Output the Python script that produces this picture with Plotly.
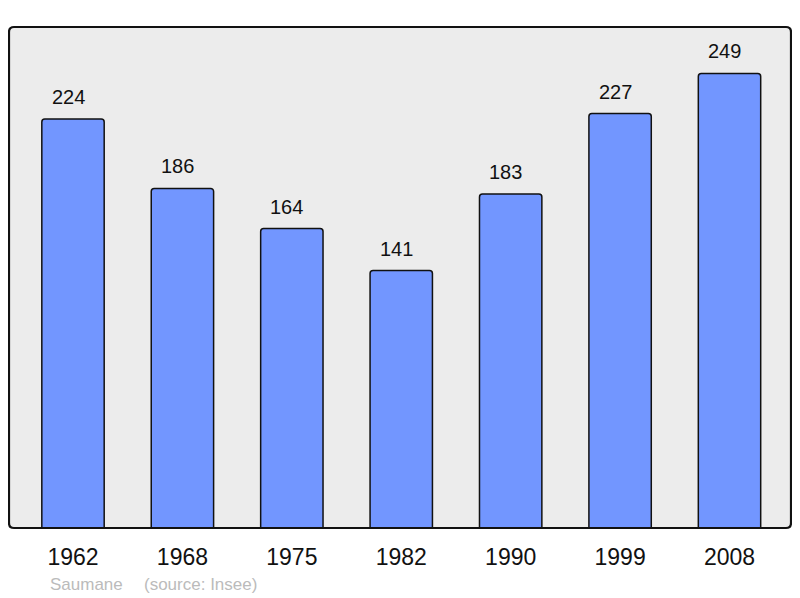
import plotly.graph_objects as go

years = ["1962", "1968", "1975", "1982", "1990", "1999", "2008"]
population = [224, 186, 164, 141, 183, 227, 249]
commune = "Saumane"
source = "(source: Insee)"

# page body has an 8px margin; size figure so the picture lands where the reference is
OFF = 8
W, H = 800 - OFF, 598 - OFF
ml, mr, mt, mb = 9 - OFF, 9, 27 - OFF, 70
pw, ph = W - ml - mr, H - mt - mb
FONT = "Liberation Sans, Arial"

fig = go.Figure()
fig.add_trace(go.Bar(
    x=list(range(len(years))), y=population,
    width=0.57,
    marker=dict(color="#7296FF", line=dict(color="#111111", width=1.5), cornerradius=3),
    hoverinfo="skip",
))

for i, v in enumerate(population):
    fig.add_annotation(x=i, y=v, text=str(v), showarrow=False, yshift=22, xshift=-5,
                       font=dict(size=20, color="#111111", family=FONT))

rx, ry = 5 / pw, 5 / ph
path = (f"M {rx},0 L {1-rx},0 Q 1,0 1,{ry} L 1,{1-ry} Q 1,1 {1-rx},1 "
        f"L {rx},1 Q 0,1 0,{1-ry} L 0,{ry} Q 0,0 {rx},0 Z")
fig.add_shape(type="path", path=path, xref="paper", yref="paper",
              line=dict(color="#111111", width=2.2), layer="above")

def px_to_paper(xs, ys):
    return (xs - OFF - ml) / pw, (H - mb - (ys - OFF)) / ph

for txt, xs in [(commune, 48), (source, 142)]:
    px, py = px_to_paper(xs, 584)
    fig.add_annotation(x=px, y=py, xref="paper", yref="paper", text=txt, showarrow=False,
                       xanchor="left", yanchor="middle",
                       font=dict(size=17, color="#BBBBBB", family=FONT))

fig.update_layout(
    width=W, height=H,
    margin=dict(l=ml, r=mr, t=mt, b=mb),
    paper_bgcolor="white", plot_bgcolor="#ECECEC",
    showlegend=False,
    xaxis=dict(tickmode="array", tickvals=list(range(len(years))), ticktext=years,
               range=[-0.585, 6.562], showgrid=False, zeroline=False,
               ticks="outside", ticklen=8, tickcolor="rgba(0,0,0,0)",
               tickfont=dict(size=23, color="#111111", family=FONT)),
    yaxis=dict(range=[0, 274.4], showgrid=False, zeroline=False, showticklabels=False),
    font=dict(family=FONT),
)

fig.write_html("out.html")
